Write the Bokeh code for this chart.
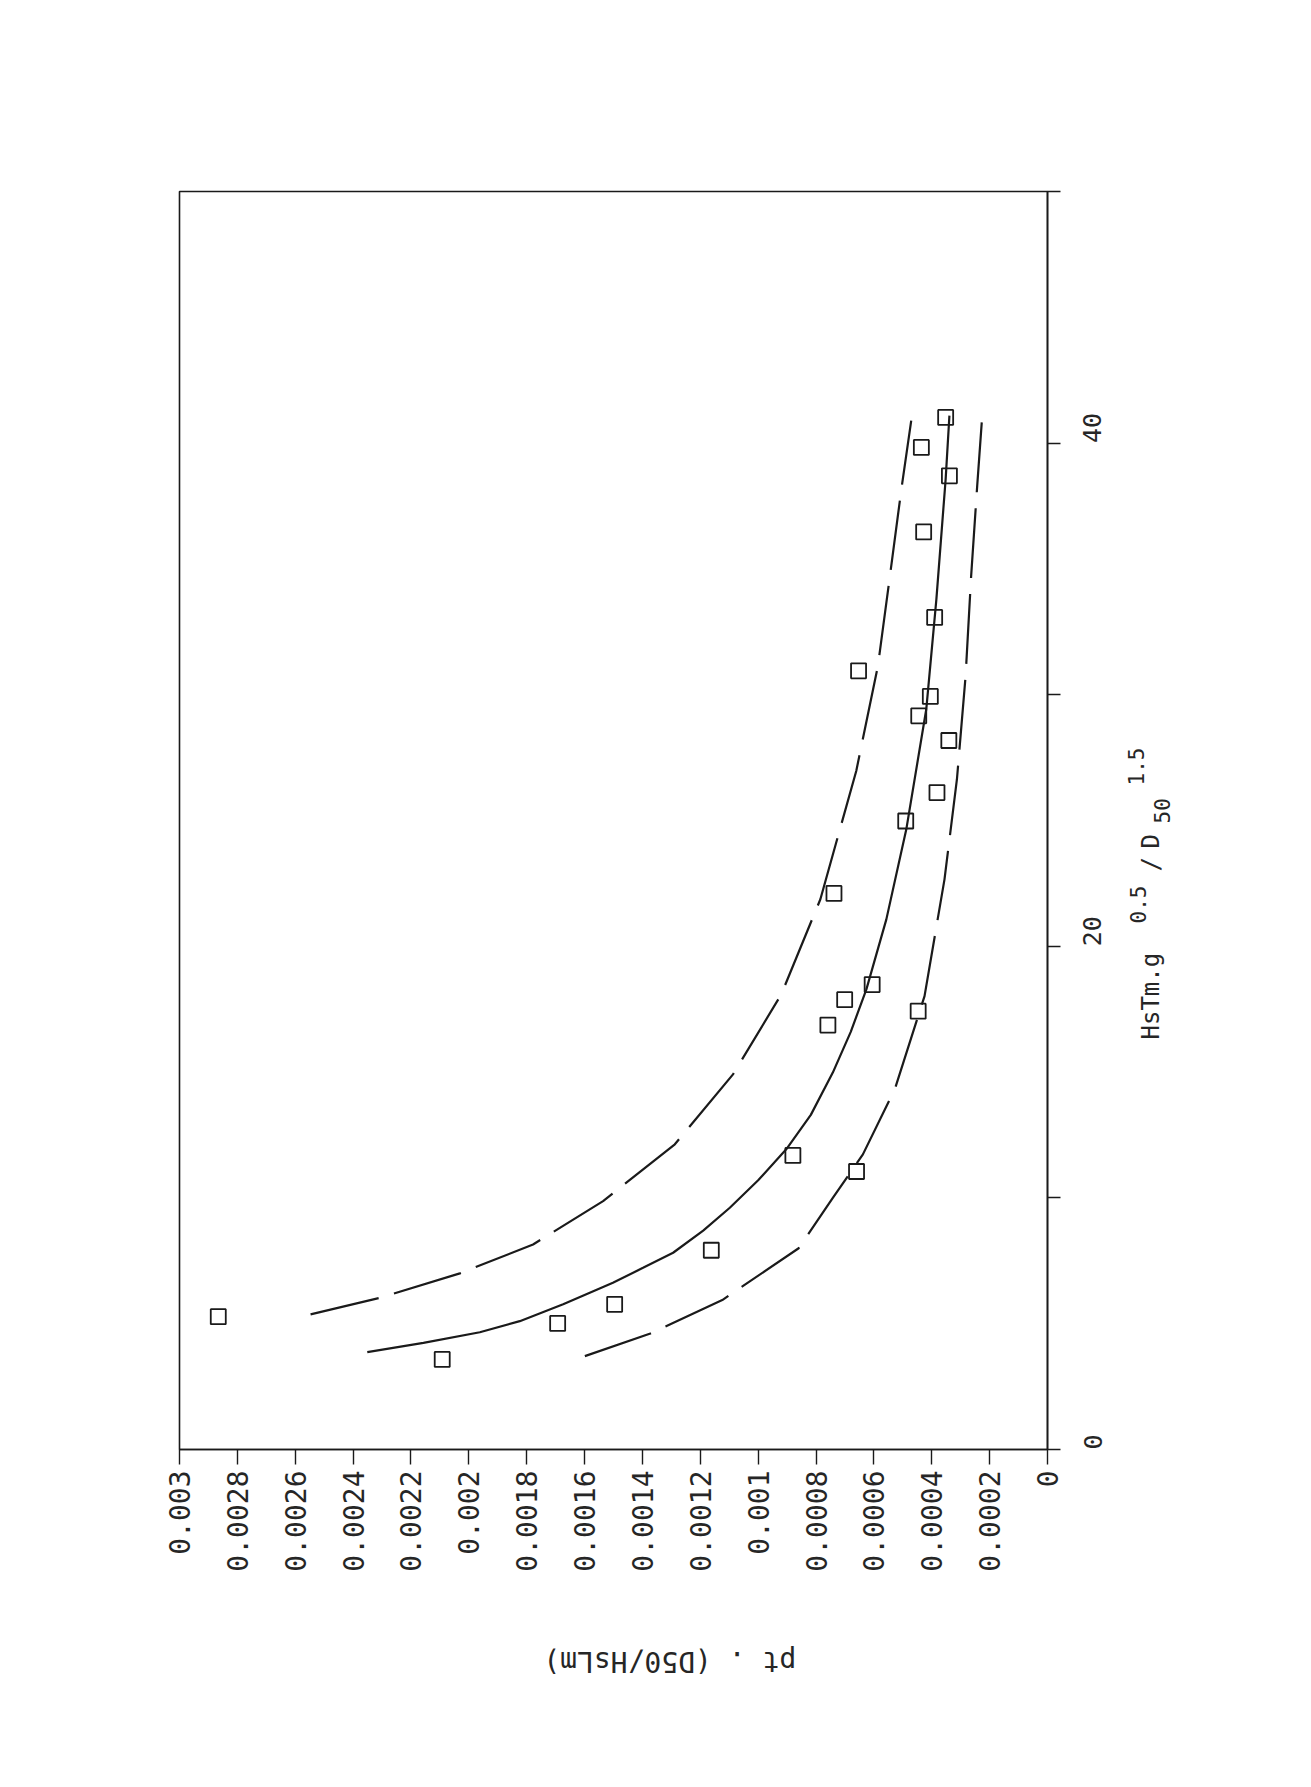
import math
from bokeh.plotting import figure
from bokeh.models import (Range1d, FixedTicker, CustomJSTickFormatter, Label)
from bokeh.embed import file_html
from bokeh.resources import INLINE

# ---- data ----
# observations: x = HsTm.g^0.5/D50^1.5 , y = pt.(D50/HsLm)
h_obs = [5.28, 3.58, 5.01, 5.77, 7.92, 11.69, 11.05, 16.87, 17.88, 18.48, 17.42, 22.10,
         24.98, 26.11, 28.18, 29.16, 29.93, 30.95, 33.07, 36.47, 38.70, 39.83, 41.02]
pt_obs = [0.002866, 0.002092, 0.001693, 0.001496, 0.001162, 0.000880, 0.000660, 0.000759,
          0.000701, 0.000606, 0.000447, 0.000738, 0.000490, 0.000382, 0.000341, 0.000445,
          0.000405, 0.000653, 0.000390, 0.000428, 0.000339, 0.000436, 0.000352]

# fitted curve (solid)
h_mid = [3.87, 4.24, 4.66, 5.10, 5.77, 6.63, 7.22, 7.82, 8.70, 9.61, 10.70, 11.93, 13.30,
         14.98, 16.60, 18.29, 21.07, 24.65, 29.42, 33.80, 38.57, 41.09]
pt_mid = [0.002351, 0.002157, 0.001962, 0.001824, 0.001674, 0.001502, 0.001398, 0.001294,
          0.001190, 0.001098, 0.001000, 0.000903, 0.000818, 0.000742, 0.000680, 0.000626,
          0.000557, 0.000488, 0.000419, 0.000384, 0.000352, 0.000339]

# upper bound (dashed)
h_up = [5.37, 6.03, 7.00, 8.15, 9.87, 12.13, 14.91, 18.09, 21.87, 26.97, 31.15, 35.12, 38.17, 40.89]
pt_up = [0.002547, 0.002307, 0.002031, 0.001778, 0.001536, 0.001288, 0.001087, 0.000920,
         0.000785, 0.000661, 0.000586, 0.000540, 0.000505, 0.000471]

# lower bound (dashed)
h_lo = [3.71, 4.60, 5.94, 8.00, 10.00, 11.73, 14.31, 18.02, 22.66, 26.64, 30.75, 34.70, 38.30, 41.02]
pt_lo = [0.001599, 0.001375, 0.001124, 0.000860, 0.000742, 0.000638, 0.000528, 0.000425,
         0.000356, 0.000313, 0.000283, 0.000264, 0.000243, 0.000226]

pt_ticks = [0.003, 0.0028, 0.0026, 0.0024, 0.0022, 0.002, 0.0018, 0.0016, 0.0014,
            0.0012, 0.001, 0.0008, 0.0006, 0.0004, 0.0002, 0.0]
pt_tick_labels = ["0.003", "0.0028", "0.0026", "0.0024", "0.0022", "0.002", "0.0018", "0.0016",
                  "0.0014", "0.0012", "0.001", "0.0008", "0.0006", "0.0004", "0.0002", "0"]
h_major = [0, 20, 40]
h_minor = [10, 30, 50]

FONT = "DejaVu Sans Mono"
INK = "#1a1a1a"
TXT = "#262626"

p = figure(width=1290, height=1765, output_backend="svg", toolbar_location=None,
           x_range=Range1d(0.003, 0.0), y_range=Range1d(0, 50),
           x_axis_location="below", y_axis_location="right",
           min_border_left=179, min_border_top=191, min_border_right=243, min_border_bottom=316)
p.grid.visible = False
p.outline_line_color = INK
p.outline_line_width = 1.6
p.background_fill_color = "white"
p.border_fill_color = "white"

xa = p.xaxis[0]
xa.ticker = FixedTicker(ticks=pt_ticks)
xa.formatter = CustomJSTickFormatter(args=dict(vals=pt_ticks, labels=pt_tick_labels), code="""
let best = 0, d = Infinity;
for (let i = 0; i < vals.length; i++) { const e = Math.abs(vals[i] - tick); if (e < d) { d = e; best = i; } }
return labels[best];
""")
xa.major_label_orientation = math.pi / 2
xa.major_tick_out = 15
xa.major_tick_in = 0
xa.minor_tick_line_color = None
xa.major_label_standoff = 6
xa.major_label_text_font = FONT
xa.major_label_text_font_size = "28px"
xa.major_label_text_color = TXT
xa.axis_line_color = INK
xa.axis_line_width = 1.6
xa.major_tick_line_color = INK
xa.major_tick_line_width = 1.4

ya = p.yaxis[0]
ya.ticker = FixedTicker(ticks=h_major, minor_ticks=h_minor)
ya.major_label_orientation = math.pi / 2
ya.major_tick_out = 13
ya.major_tick_in = 0
ya.minor_tick_out = 13
ya.minor_tick_in = 0
ya.major_label_standoff = 32
ya.major_label_text_font = FONT
ya.major_label_text_font_size = "25px"
ya.major_label_text_color = TXT
ya.axis_line_color = INK
ya.axis_line_width = 1.6
ya.major_tick_line_color = INK
ya.minor_tick_line_color = INK
ya.major_tick_line_width = 1.4
ya.minor_tick_line_width = 1.4

# curves
p.line(pt_mid, h_mid, line_color=INK, line_width=2.2)
p.line(pt_up, h_up, line_color=INK, line_width=2.2, line_dash="70 16")
p.line(pt_lo, h_lo, line_color=INK, line_width=2.2, line_dash="70 16")
# observations
p.scatter(pt_obs, h_obs, marker="square", size=15, fill_color=None, line_color=INK, line_width=1.8)

# axis titles (rotated as on the scanned page); placed in the side panels so they are not clipped
def px_to_data(X, Y):
    return (1048 - X) / 868.5 * 0.003, (1450 - Y) / 25.16

def add_label(text, X, Y, size, angle, side, align="left", baseline="alphabetic"):
    x, y = px_to_data(X, Y)
    p.add_layout(Label(x=x, y=y, text=text, angle=angle, text_align=align, text_baseline=baseline,
                       text_font=FONT, text_font_size=size, text_color=TXT), side)

# bottom title: upside down
add_label("pt . (D50/HsLm)", 670, 1662, "28px", math.pi, "below", align="center", baseline="middle")

# right title, reading bottom to top
a = math.pi / 2
add_label("HsTm.g", 1152, 1040, "24px", a, "right")
add_label("0.5", 1139, 924, "21px", a, "right")
add_label("/", 1152, 872, "24px", a, "right")
add_label("D", 1152, 849, "24px", a, "right")
add_label("50", 1163, 824, "21px", a, "right")
add_label("1.5", 1137, 786, "21px", a, "right")

open("out.html", "w").write(file_html(p, INLINE))
